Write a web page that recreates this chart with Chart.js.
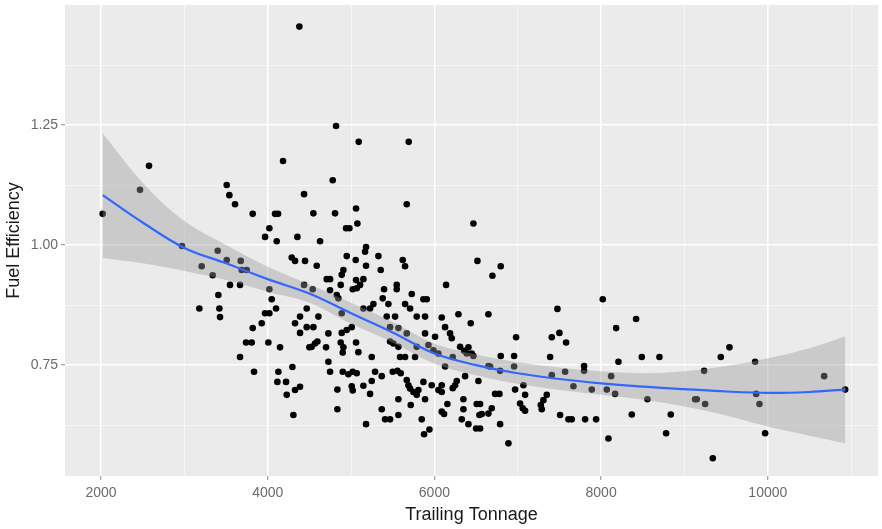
<!DOCTYPE html>
<html>
<head>
<meta charset="utf-8">
<script src="https://cdn.jsdelivr.net/npm/chart.js@4"></script>
<style>
  body { margin: 0; background: #fff; }
  canvas { display: block; }
</style>
</head>
<body>
<canvas id="chart" width="882" height="529"></canvas>
<script>
// Datos: toneladas arrastradas y eficiencia de combustible
var tonnage = [
  2020, 2468, 2576, 2972, 4184, 4380, 4820, 5092, 5692,
  3508, 3540, 3608, 3820, 4088, 4124, 4436, 4020, 3968, 4108, 4356,
  3400, 3508, 3676, 3208, 3340, 3688, 3748, 3548, 3668, 4288, 4328, 4448,
  4436, 4020, 4048, 4100, 3408, 3180, 3420, 3428, 3968, 4020, 4388, 4468,
  4780, 5668, 4548, 4808, 5060, 5076, 4980, 4940, 4628, 5180, 5168, 4948,
  5056, 5328, 4588, 5180, 5620, 5648, 5356, 4908, 4888, 4708, 4748, 5060,
  5148, 5108, 5068, 5020, 4876, 4540, 4748, 5548, 5548, 5396, 4828, 4848,
  5380, 5448, 5728, 5868, 5908, 5648, 5708, 5148, 5228, 5268, 4888, 4608,
  5428, 5528, 5788, 5888,
  6468, 6516, 6796, 6696, 6140, 7476, 6288, 6648, 6088,
  3820, 3928, 4328, 4388, 4468, 3740, 3808, 4008, 4148, 4500, 3668, 3836,
  4128, 4296, 4116, 4220, 4328, 4388, 4228, 4308,
  4548, 4728, 4888, 4948, 5008, 4568, 4596, 4528, 4700, 4876, 4908, 4900,
  5060, 5088, 5248, 4728, 4748, 4900, 4968, 5020, 5068, 5288, 5368, 5500,
  5556, 5596, 5248, 5148, 5008, 5020, 4836, 5228, 5668, 5688, 5708, 5748,
  5788, 5808, 5868, 5968, 6048, 5888, 5568, 5716, 4836, 5368, 5568, 5408,
  5468, 5848, 5180, 5940, 5876, 5468, 5568, 5668, 5888, 6008, 5928, 5988,
  6048, 5568, 5588, 5648, 5768, 5788, 5468, 5508,
  6436, 6128, 6188, 6208, 6980, 7408, 7500, 7580, 6308, 6356, 6408, 6448,
  6468, 6388, 6220, 6128, 6648, 6668, 6796, 6956, 6956, 7388, 7408, 7568,
  6788, 6368, 6528, 6268, 6248, 6220, 6088, 6088, 6728, 6780, 6968, 7068,
  7088, 6348, 6156, 6508, 6548, 7028, 7060, 7088, 7348, 7308, 7276, 7288,
  6688, 6648, 6568, 6540, 6348, 6116, 6088, 7508, 7608, 6328, 6408, 6788,
  6500, 6548, 6888,
  8020, 8420, 8180, 9540, 9436, 8488, 8700, 8208, 9848, 7796, 7796, 9236,
  8120, 10676, 7668, 7888, 8068, 8168, 8556, 9128, 9148, 9248, 9860, 9900,
  10928, 7648, 7808, 7940, 8368, 8836, 8088, 8780, 9968, 9340
];
var efficiency = [
  1.065, 1.115, 1.165, 0.998, 1.175, 1.455, 1.248, 1.215, 1.215,
  1.125, 1.104, 1.085, 1.065, 1.065, 1.065, 1.106, 1.035, 1.017, 1.008, 1.017,
  0.988, 0.969, 0.967, 0.956, 0.937, 0.948, 0.948, 0.917, 0.917, 0.974, 0.967, 0.967,
  0.917, 0.908, 0.887, 0.868, 0.896, 0.868, 0.868, 0.850, 0.858, 0.858, 0.851, 0.868,
  1.135, 1.085, 1.066, 1.066, 1.076, 1.045, 1.035, 1.035, 1.008, 0.996, 0.986, 0.977,
  0.969, 0.977, 0.957, 0.957, 0.969, 0.956, 0.948, 0.948, 0.938, 0.929, 0.929, 0.927,
  0.929, 0.917, 0.910, 0.908, 0.917, 0.908, 0.906, 0.917, 0.908, 0.908, 0.896, 0.889,
  0.889, 0.877, 0.898, 0.887, 0.887, 0.877, 0.868, 0.868, 0.868, 0.877, 0.858, 0.851,
  0.851, 0.851, 0.851, 0.851,
  1.045, 0.967, 0.956, 0.936, 0.917, 0.867, 0.856, 0.856, 0.849,
  0.827, 0.837, 0.837, 0.817, 0.829, 0.797, 0.797, 0.797, 0.787, 0.787, 0.767, 0.736,
  0.736, 0.746, 0.715, 0.715, 0.698, 0.705, 0.688, 0.646,
  0.829, 0.816, 0.817, 0.823, 0.829, 0.795, 0.799, 0.788, 0.787, 0.797, 0.787, 0.776,
  0.797, 0.777, 0.767, 0.757, 0.736, 0.736, 0.731, 0.736, 0.733, 0.736, 0.727, 0.736,
  0.738, 0.733, 0.717, 0.707, 0.706, 0.697, 0.699, 0.690, 0.719, 0.708, 0.701, 0.694,
  0.688, 0.698, 0.715, 0.708, 0.698, 0.679, 0.679, 0.667, 0.658, 0.658, 0.646, 0.637,
  0.637, 0.637, 0.627, 0.616, 0.606, 0.829, 0.827, 0.816, 0.816, 0.809, 0.792, 0.781,
  0.774, 0.788, 0.767, 0.767, 0.767, 0.788, 0.799, 0.795,
  0.837, 0.829, 0.816, 0.806, 0.808, 0.808, 0.817, 0.797, 0.788, 0.780, 0.787, 0.774,
  0.769, 0.774, 0.767, 0.747, 0.748, 0.747, 0.769, 0.769, 0.747, 0.767, 0.729, 0.736,
  0.738, 0.727, 0.717, 0.717, 0.708, 0.702, 0.708, 0.694, 0.690, 0.690, 0.699, 0.708,
  0.688, 0.679, 0.669, 0.669, 0.669, 0.670, 0.660, 0.655, 0.688, 0.677, 0.667, 0.658,
  0.660, 0.649, 0.648, 0.646, 0.658, 0.648, 0.653, 0.646, 0.637, 0.637, 0.627, 0.627,
  0.618, 0.618, 0.587,
  0.887, 0.846, 0.827, 0.787, 0.767, 0.767, 0.767, 0.757, 0.757, 0.748, 0.738, 0.738,
  0.727, 0.727, 0.706, 0.699, 0.699, 0.690, 0.679, 0.679, 0.679, 0.669, 0.690, 0.669,
  0.699, 0.637, 0.637, 0.637, 0.647, 0.647, 0.597, 0.608, 0.608, 0.556
];

// Curva suavizada (loess) y banda de confianza
var smoothX = [2020, 2500, 3000, 3500, 4000, 4500, 5000, 5500, 6000, 6500,
               7000, 7500, 8000, 8500, 9000, 9500, 10000, 10500, 10930];
var smoothY = [1.104, 1.047, 0.994, 0.962, 0.929, 0.899, 0.858, 0.818, 0.774, 0.750,
               0.733, 0.721, 0.712, 0.705, 0.700, 0.695, 0.692, 0.694, 0.699];
var bandUpper = [1.233, 1.130, 1.050, 1.000, 0.955, 0.918, 0.880, 0.840, 0.795, 0.772,
                 0.756, 0.745, 0.737, 0.733, 0.737, 0.748, 0.764, 0.785, 0.810];
var bandLower = [0.973, 0.962, 0.946, 0.927, 0.903, 0.880, 0.836, 0.797, 0.753, 0.729,
                 0.711, 0.698, 0.688, 0.678, 0.664, 0.645, 0.622, 0.603, 0.587];

// Marcas de los ejes
var xTicks = [2000, 3000, 4000, 5000, 6000, 7000, 8000, 9000, 10000, 11000];
var xMajor = [2000, 4000, 6000, 8000, 10000];
var yTicks = [0.625, 0.75, 0.875, 1.0, 1.125, 1.25, 1.375];
var yMajor = [0.75, 1.0, 1.25];

function pairs(xs, ys) {
  return xs.map(function (x, i) { return { x: x, y: ys[i] }; });
}

// Fondo gris del panel
var panelBg = {
  id: 'panelBg',
  beforeDraw: function (chart) {
    var a = chart.chartArea, c = chart.ctx;
    c.save();
    c.fillStyle = '#EBEBEB';
    c.fillRect(a.left, a.top, a.right - a.left, a.bottom - a.top);
    c.restore();
  }
};

function isMajor(list, v) {
  return list.some(function (m) { return Math.abs(m - v) < 1e-6; });
}

var font = 'Liberation Sans, Arial, sans-serif';

var ctx = document.getElementById('chart').getContext('2d');
var chart = new Chart(ctx, {
  type: 'line',
  data: {
    datasets: [{
      data: pairs(smoothX, smoothY),
      borderColor: '#3366FF',
      borderWidth: 2.2,
      pointRadius: 0,
      tension: 0.35,
      fill: false,
      order: 0
    }, {
      data: pairs(smoothX, bandUpper),
      borderWidth: 0,
      borderColor: 'rgba(0,0,0,0)',
      backgroundColor: 'rgba(153,153,153,0.4)',
      pointRadius: 0,
      tension: 0.35,
      fill: '+1',
      order: 1
    }, {
      data: pairs(smoothX, bandLower),
      borderWidth: 0,
      borderColor: 'rgba(0,0,0,0)',
      pointRadius: 0,
      tension: 0.35,
      fill: false,
      order: 2
    }, {
      data: pairs(tonnage, efficiency),
      showLine: false,
      pointRadius: 3.3,
      pointBorderWidth: 0,
      pointBackgroundColor: '#000',
      pointBorderColor: '#000',
      order: 3
    }]
  },
  options: {
    responsive: false,
    animation: false,
    layout: { padding: { top: 5, right: 4, left: 0, bottom: 0 } },
    plugins: { legend: { display: false }, tooltip: { enabled: false } },
    scales: {
      x: {
        type: 'linear',
        min: 1568,
        max: 11322,
        afterBuildTicks: function (s) { s.ticks = xTicks.map(function (v) { return { value: v }; }); },
        afterFit: function (s) { s.height = 53; s.paddingLeft = 0; s.paddingRight = 0; },
        border: { display: false },
        grid: {
          color: function (c) { return isMajor(xMajor, c.tick.value) ? '#FFFFFF' : '#F7F7F7'; },
          lineWidth: function (c) { return isMajor(xMajor, c.tick.value) ? 1.5 : 0.8; },
          tickColor: function (c) { return isMajor(xMajor, c.tick.value) ? '#8a8a8a' : 'rgba(0,0,0,0)'; },
          tickLength: 4,
          tickWidth: 1
        },
        ticks: {
          autoSkip: false,
          maxRotation: 0,
          padding: 5,
          color: '#6b6b6b',
          font: { family: font, size: 14 },
          callback: function (v) { return isMajor(xMajor, v) ? String(v) : ''; }
        },
        title: {
          display: true,
          text: 'Trailing Tonnage',
          color: '#1a1a1a',
          font: { family: font, size: 18 },
          padding: { top: 2, bottom: 3 }
        }
      },
      y: {
        type: 'linear',
        min: 0.519,
        max: 1.5,
        afterBuildTicks: function (s) { s.ticks = yTicks.map(function (v) { return { value: v }; }); },
        afterFit: function (s) { s.width = 65; s.paddingTop = 0; s.paddingBottom = 0; },
        border: { display: false },
        grid: {
          color: function (c) { return isMajor(yMajor, c.tick.value) ? '#FFFFFF' : '#F7F7F7'; },
          lineWidth: function (c) { return isMajor(yMajor, c.tick.value) ? 1.5 : 0.8; },
          tickColor: function (c) { return isMajor(yMajor, c.tick.value) ? '#8a8a8a' : 'rgba(0,0,0,0)'; },
          tickLength: 4,
          tickWidth: 1
        },
        ticks: {
          autoSkip: false,
          padding: 3,
          color: '#6b6b6b',
          font: { family: font, size: 14 },
          callback: function (v) { return isMajor(yMajor, v) ? v.toFixed(2) : ''; }
        },
        title: {
          display: true,
          text: 'Fuel Efficiency',
          color: '#1a1a1a',
          font: { family: font, size: 18 },
          padding: { top: 3, bottom: 2 }
        }
      }
    }
  },
  plugins: [panelBg]
});
</script>
</body>
</html>
